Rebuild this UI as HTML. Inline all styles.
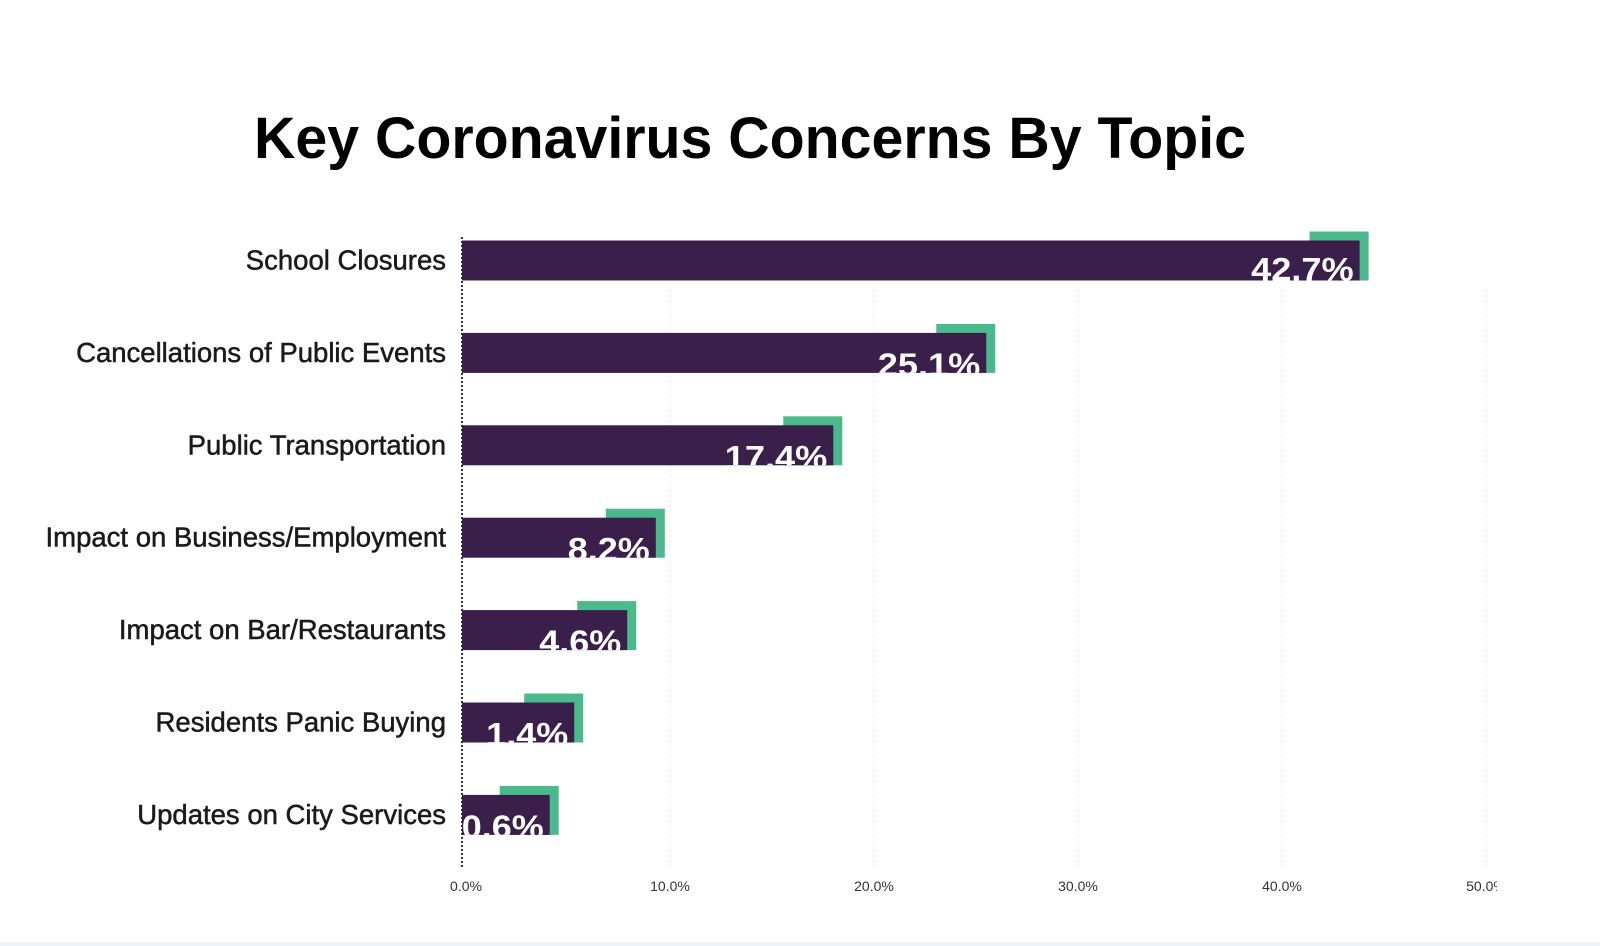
<!DOCTYPE html>
<html><head><meta charset="utf-8"><style>
html,body{margin:0;padding:0;background:#fff;}
svg{display:block;font-family:"Liberation Sans",sans-serif;}
</style></head><body>
<svg id="chart" width="1600" height="946" viewBox="0 0 1600 946">
<defs><clipPath id="plotclip"><rect x="0" y="0" width="1497" height="946"/></clipPath></defs>
<text x="750" y="158" text-anchor="middle" font-size="58" font-weight="bold" fill="#000" textLength="992" lengthAdjust="spacingAndGlyphs">Key Coronavirus Concerns By Topic</text>
<g id="grid" clip-path="url(#plotclip)"></g>
<g id="bars"></g>
<rect x="0" y="942" width="1600" height="4" fill="#eef5fa"/>
</svg>
<script>
const categories = ["School Closures","Cancellations of Public Events","Public Transportation","Impact on Business/Employment","Impact on Bar/Restaurants","Residents Panic Buying","Updates on City Services"];
const valueLabels = ["42.7%","25.1%","17.4%","8.2%","4.6%","1.4%","0.6%"];
const barLengths = [44.0, 25.7, 18.2, 9.5, 8.1, 5.5, 4.3];
const tickValues = [0,10,20,30,40,50];
const tickLabels = ["0.0%","10.0%","20.0%","30.0%","40.0%","50.0%"];

const NS = "http://www.w3.org/2000/svg";
const x0 = 462;
function xScale(v){ return 466 + 20.4 * v; }
function yBand(i){ return 260.5 + 92.4 * i; }
function mk(tag, attrs, parent){
  const e = document.createElementNS(NS, tag);
  for (const k in attrs) e.setAttribute(k, attrs[k]);
  parent.appendChild(e); return e;
}
const grid = document.getElementById('grid');
const barsG = document.getElementById('bars');

tickValues.forEach((t,i)=>{
  const x = xScale(t);
  if (t>0){
    const l = mk('line',{x1:x,x2:x,y1:290,y2:868,stroke:'#e6e6e6','stroke-width':1,'stroke-dasharray':'2,3'},grid);
    
    
  }
  const tx = mk('text',{x:x,y:891,'text-anchor':'middle','font-size':14,fill:'#333'},grid);
  tx.textContent = tickLabels[i];
  
  
});

const ax = mk('line',{x1:x0,x2:x0,y1:237,y2:868,stroke:'#000','stroke-width':1.6,'stroke-dasharray':'2,2'},barsG);



categories.forEach((c,i)=>{
  const cy = yBand(i);
  const top = cy - 20, h = 40;
  const end = xScale(barLengths[i]) - 4;
  const g = mk('rect',{x:end-50,y:top-9,width:59,height:h+9,fill:'#4cb98c'},barsG);
  
  
  const b = mk('rect',{x:x0,y:top,width:end-x0,height:h,fill:'#3b1f4b'},barsG);
  
  
  const cp = mk('clipPath',{id:'cp'+i},barsG);
  mk('rect',{x:x0,y:top,width:end-x0,height:h},cp);
  const w = valueLabels[i].length*20.5;
  const vt = mk('text',{x:end-6,y:top+(i===0?40:43),'text-anchor':'end','font-size':32,'font-weight':'bold',fill:'#fff','clip-path':'url(#cp'+i+')',textLength:w,lengthAdjust:'spacingAndGlyphs'},barsG);
  vt.textContent = valueLabels[i];
  
  
  const ct = mk('text',{x:446,y:cy+9,'text-anchor':'end','font-size':27.5,fill:'#1a1a1a',stroke:'#1a1a1a','stroke-width':0.5},barsG);
  ct.textContent = c;
  
  
});
</script>
</body></html>
